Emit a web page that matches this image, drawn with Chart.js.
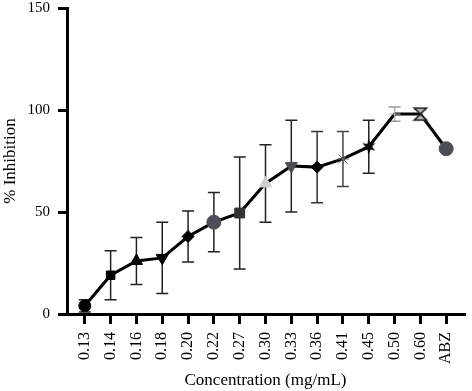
<!DOCTYPE html>
<html>
<head>
<meta charset="utf-8">
<script src="https://cdn.jsdelivr.net/npm/chart.js@4"></script>
<style>
  body { margin: 0; background: #fff; }
  #wrap { width: 472px; height: 391px; }
</style>
</head>
<body>
<div id="wrap"><canvas id="lineChart"></canvas></div>
<script>
// Datos
const concentrations = ['0.13', '0.14', '0.16', '0.18', '0.20', '0.22', '0.27', '0.30', '0.33', '0.36', '0.41', '0.45', '0.50', '0.60', 'ABZ'];
const inhibition = [4, 19, 26, 27.5, 38, 45, 49.5, 64, 72.5, 72, 76, 82, 98, 98, 81];
const inhibitionSD = [3, 12, 11.5, 17.5, 12.5, 14.5, 27.5, 19, 22.5, 17.5, 13.5, 13, 3.5, 2.5, 0];
const yTicks = [0, 50, 100, 150];

// Marcadores especiales dibujados en canvas
function makeMarker(size, draw) {
  const c = document.createElement('canvas');
  c.width = size; c.height = size;
  draw(c.getContext('2d'), size);
  return c;
}
const starSix = makeMarker(16, (g, s) => {
  g.fillStyle = '#000';
  g.beginPath();
  for (let k = 0; k < 12; k++) {
    const r = k % 2 === 0 ? 7.5 : 3.2;
    const a = -Math.PI / 2 + k * Math.PI / 6;
    g.lineTo(s / 2 + r * Math.cos(a), s / 2 + r * Math.sin(a));
  }
  g.closePath();
  g.fill();
});
const hourglass = makeMarker(16, (g, s) => {
  g.strokeStyle = '#222';
  g.fillStyle = '#bbb';
  g.lineWidth = 1.6;
  g.beginPath();
  g.moveTo(2, 2); g.lineTo(14, 2); g.lineTo(2, 14); g.lineTo(14, 14); g.closePath();
  g.fill(); g.stroke();
});

const markerStyles = ['circle', 'rect', 'triangle', 'triangle', 'rectRot', 'circle', 'rect', 'triangle', 'triangle', 'rectRot', 'star', starSix, 'cross', hourglass, 'circle'];
const markerRotation = [0, 0, 0, 180, 0, 0, 0, 0, 180, 0, 0, 0, 0, 0, 0];
const markerRadius = [6, 6, 7, 7, 6, 7, 7, 7, 7, 6, 6, 7, 6, 7, 7];
const markerColors = ['#000', '#000', '#000', '#000', '#000', '#4b4e56', '#333', '#cfcfcf', '#4b4e56', '#000', '#666', '#000', '#bbb', '#000', '#4b4e56'];
const barColors = ['#222', '#222', '#222', '#222', '#222', '#222', '#222', '#222', '#222', '#333', '#444', '#222', '#999', '#333', '#222'];

// Plugin para las barras de error
const errorBars = {
  id: 'errorBars',
  beforeDatasetsDraw(chart) {
    const { ctx, scales: { x, y } } = chart;
    ctx.save();
    ctx.lineWidth = 1.5;
    inhibition.forEach((v, i) => {
      const e = inhibitionSD[i];
      if (!e) return;
      const px = x.getPixelForValue(i);
      const top = y.getPixelForValue(v + e);
      const bot = y.getPixelForValue(v - e);
      ctx.strokeStyle = barColors[i];
      ctx.beginPath();
      ctx.moveTo(px, top); ctx.lineTo(px, bot);
      ctx.moveTo(px - 6, top); ctx.lineTo(px + 6, top);
      ctx.moveTo(px - 6, bot); ctx.lineTo(px + 6, bot);
      ctx.stroke();
    });
    ctx.restore();
  }
};

const serifFamily = '"Liberation Serif", "Times New Roman", serif';

var ctx = document.getElementById('lineChart').getContext('2d');
let lineChart = new Chart(ctx, {
  type: 'line',
  data: {
    datasets: [{
      data: inhibition.map((v, i) => ({ x: i, y: v })),
      borderColor: '#000',
      borderWidth: 3,
      pointStyle: markerStyles,
      pointRotation: markerRotation,
      pointRadius: markerRadius,
      pointBackgroundColor: markerColors,
      pointBorderColor: markerColors,
      pointBorderWidth: 1,
      clip: false
    }]
  },
  options: {
    responsive: true,
    maintainAspectRatio: false,
    animation: false,
    layout: { padding: { top: 7, right: 2, left: 0, bottom: 0 } },
    plugins: { legend: { display: false }, tooltip: { enabled: false } },
    scales: {
      x: {
        type: 'linear',
        min: -0.69,
        max: 14.69,
        afterBuildTicks: scale => { scale.ticks = concentrations.map((_, i) => ({ value: i })); },
        afterFit: scale => { scale.height = 77; scale.paddingLeft = 0; scale.paddingRight = 0; },
        border: { width: 3, color: '#000' },
        grid: { drawOnChartArea: false, tickLength: 10, lineWidth: 3, color: '#000' },
        ticks: {
          autoSkip: false,
          minRotation: 90,
          maxRotation: 90,
          padding: 8,
          color: '#000',
          font: { family: serifFamily, size: 16 },
          callback: v => concentrations[v]
        },
        title: { display: true, text: 'Concentration (mg/mL)', color: '#000', font: { family: serifFamily, size: 17 }, padding: { top: 2, bottom: 0 } }
      },
      y: {
        min: 0,
        max: 150,
        afterBuildTicks: scale => { scale.ticks = yTicks.map(v => ({ value: v })); },
        afterFit: scale => { scale.width = 67; scale.paddingTop = 0; scale.paddingBottom = 0; },
        border: { width: 3, color: '#000' },
        grid: { drawOnChartArea: false, tickLength: 9, lineWidth: 3, color: '#000' },
        ticks: { padding: 8, color: '#000', font: { family: serifFamily, size: 15 } },
        title: { display: true, text: '% Inhibition', color: '#000', font: { family: serifFamily, size: 17 }, padding: { top: 0, bottom: 4 } }
      }
    }
  },
  plugins: [errorBars]
});
</script>
</body>
</html>
